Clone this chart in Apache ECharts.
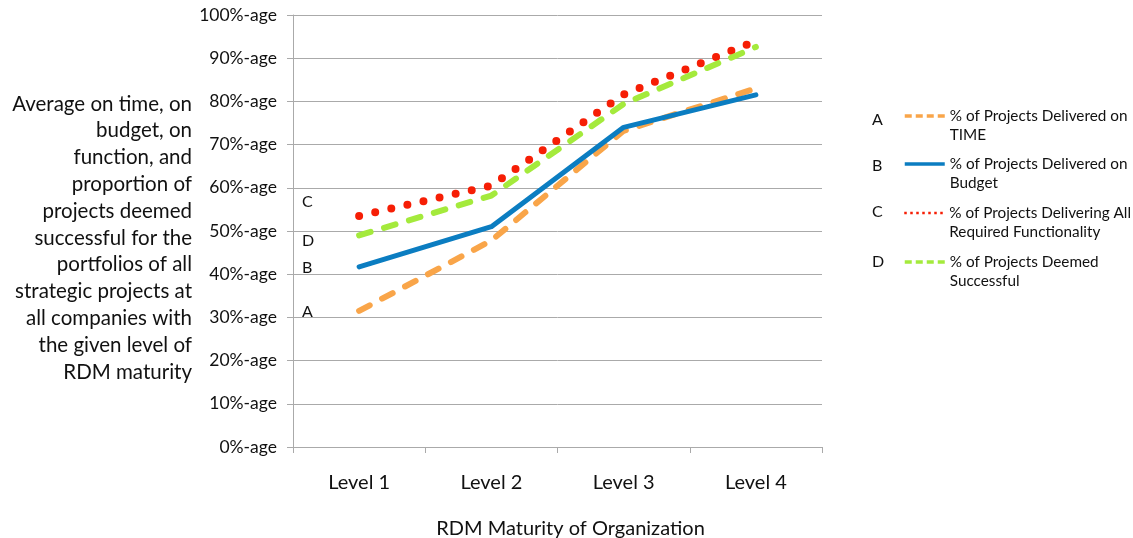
<!DOCTYPE html>
<html><head><meta charset="utf-8">
<script src="https://cdn.jsdelivr.net/npm/echarts@6/dist/echarts.min.js"></script>
<style>html,body{margin:0;padding:0;background:#fff}#c{width:1133px;height:538px}</style>
</head><body><div id="c"></div>
<script>
const categories = ['Level 1', 'Level 2', 'Level 3', 'Level 4'];
const seriesNames = [
  '% of Projects Delivered on\nTIME',
  '% of Projects Delivered on\nBudget',
  '% of Projects Delivering All\nRequired Functionality',
  '% of Projects Deemed\nSuccessful'
];
const seriesLetters = ['A', 'B', 'C', 'D'];
const timeValues = [31.5, 47.8, 73.2, 83.0];
const budgetValues = [41.7, 51.0, 74.0, 81.5];
const functionValues = [53.5, 60.5, 81.6, 94.0];
const successValues = [49.0, 58.2, 79.4, 92.6];
const yTicks = [0, 10, 20, 30, 40, 50, 60, 70, 80, 90, 100];
const yName = 'Average on time, on\nbudget, on\nfunction, and\nproportion of\nprojects deemed\nsuccessful for the\nportfolios of all\nstrategic projects at\nall companies with\nthe given level of\nRDM maturity';
const xName = 'RDM Maturity of Organization';

const FONT = 'Lato';
const chart = echarts.init(document.getElementById('c'), null, {renderer: 'canvas'});
const colors = ['#F9A549', '#0B7DC1', '#F61E05', '#A4EA3C'];
const styles = [
  {width: 6, type: [12, 14], cap: 'round'},
  {width: 5, type: 'solid', cap: 'round'},
  {width: 8, type: [0, 16.5], cap: 'round'},
  {width: 6, type: [12, 14], cap: 'round'}
];
const legendLine = [
  {width: 3.5, type: [7, 4], cap: 'butt'},
  {width: 3.5, type: 'solid', cap: 'butt'},
  {width: 2.5, type: [2.5, 3.5], cap: 'butt'},
  {width: 3.5, type: [7, 4], cap: 'butt'}
];
const values = [timeValues, budgetValues, functionValues, successValues];
const legendCenters = [116, 164, 213, 262];
const letterCenters = [120, 166, 212, 262];

const option = {
  animation: false,
  textStyle: {fontFamily: FONT},
  grid: {left: 293, right: 311, top: 15, bottom: 91, containLabel: false, outerBoundsMode: 'none'},
  legend: seriesNames.map((n, i) => ({
    orient: 'vertical', left: 903, top: legendCenters[i] - 28.5, padding: 0,
    itemWidth: 40, itemHeight: 10, itemGap: 5,
    data: [n], selectedMode: false,
    formatter: s => '\n' + s,
    itemStyle: {opacity: 0},
    lineStyle: Object.assign({color: colors[i]}, legendLine[i]),
    textStyle: {fontFamily: FONT, fontSize: 15.3, color: '#111', lineHeight: 19}
  })),
  xAxis: {
    type: 'category', data: categories, boundaryGap: true,
    name: xName, nameLocation: 'middle', nameGap: 72,
    nameTextStyle: {fontFamily: FONT, fontSize: 20, color: '#111', padding: [0, 0, 0, 26]},
    axisLine: {show: true, lineStyle: {color: '#aaa', width: 1}},
    axisTick: {show: true, length: 6, lineStyle: {color: '#aaa'}},
    axisLabel: {fontFamily: FONT, fontSize: 20, color: '#111', margin: 26},
    splitLine: {show: false}
  },
  yAxis: {
    type: 'value', min: 0, max: 100, interval: 10,
    axisLine: {show: true, lineStyle: {color: '#aaa', width: 1}},
    axisTick: {show: true, length: 6, lineStyle: {color: '#aaa'}},
    axisLabel: {fontFamily: FONT, fontSize: 17.5, color: '#111', margin: 16,
      formatter: v => yTicks.includes(v) ? v + '%-age' : ''},
    splitLine: {show: true, lineStyle: {color: '#aaa', width: 1}}
  },
  series: values.map((vals, i) => ({
    name: seriesNames[i], type: 'line', data: vals, symbol: 'none',
    itemStyle: {color: colors[i]},
    lineStyle: Object.assign({color: colors[i]}, styles[i], {join: 'round'}),
    z: 2 + i
  })),
  graphic: [
    {
      type: 'text', x: 192, y: 90.6,
      style: {text: yName, fontFamily: FONT, fontSize: 20.5, fill: '#111',
        align: 'right', verticalAlign: 'top', lineHeight: 26.8}
    },
    ...seriesLetters.map((l, i) => ({
      type: 'text', left: 872, top: letterCenters[i] - 8,
      style: {text: l, fontFamily: FONT, fontSize: 16, fill: '#111'}
    })),
    ...[['A', 304], ['B', 260], ['D', 233], ['C', 194]].map(([l, y]) => ({
      type: 'text', left: 302, top: y,
      style: {text: l, fontFamily: FONT, fontSize: 16, fill: '#111'}
    }))
  ]
};
chart.setOption(option);
</script></body></html>
